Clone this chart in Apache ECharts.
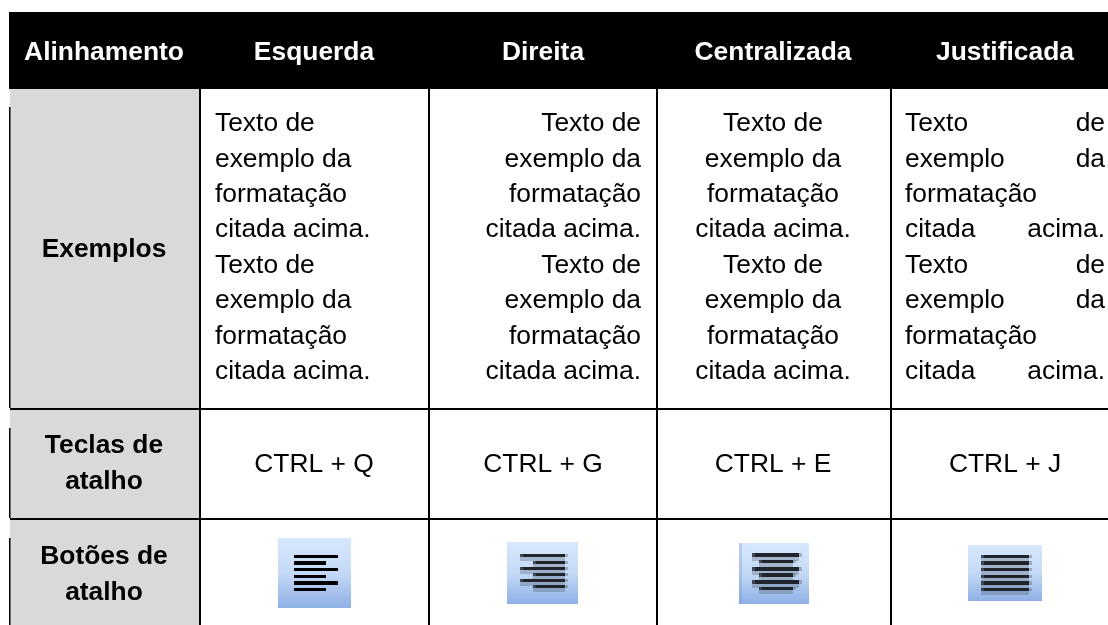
<!DOCTYPE html>
<html>
<head>
<meta charset="utf-8">
<style>html,body{margin:0;padding:0;background:#fff}#c{width:1108px;height:625px}</style>
<script src="https://cdn.jsdelivr.net/npm/echarts@6/dist/echarts.min.js"></script>
</head>
<body>
<div id="c"></div>
<script>
const headers = ['Alinhamento','Esquerda','Direita','Centralizada','Justificada'];
const rowLabels = [['Exemplos'],['Teclas de','atalho'],['Botões de','atalho']];
const exampleLines = ['Texto de','exemplo da','formatação','citada acima.','Texto de','exemplo da','formatação','citada acima.'];
const justifiedLines = [['Texto','de'],['exemplo','da'],['formatação'],['citada','acima.'],['Texto','de'],['exemplo','da'],['formatação'],['citada','acima.']];
const shortcuts = ['CTRL + Q','CTRL + G','CTRL + E','CTRL + J'];

const FONT = '"Liberation Sans", Arial, sans-serif';
const SIZE = 26.4;
const LINE = 35.4;
const els = [];
const rect = (x,y,w,h,fill) => els.push({type:'rect',silent:true,shape:{x,y,width:w,height:h},style:{fill}});
const text = (t,x,y,align,bold,fill) => els.push({type:'text',silent:true,x,y,style:{text:t,x:0,y:0,align,verticalAlign:'middle',fill:fill||'#000',font:(bold?'bold ':'')+SIZE+'px '+FONT}});

// backgrounds
rect(9,12,1099,77,'#000');
rect(10,89,189,536,'#d9d9d9');
// rules
[199,428,656,890].forEach(x=>rect(x,89,2,536,'#000'));
rect(10,408,1098,2,'#000');
rect(10,518,1098,2,'#000');
[[107,408],[428,518],[538,625]].forEach(([a,b])=>rect(9,a,1.5,b-a,'#000'));

// header
const hx = [104,314,543,773,1005];
headers.forEach((h,i)=>text(h,hx[i],53,'center',true,'#fff'));
// row labels
text(rowLabels[0][0],104,250,'center',true);
rowLabels[1].forEach((t,i)=>text(t,104,446+i*36,'center',true));
rowLabels[2].forEach((t,i)=>text(t,104,557+i*36,'center',true));
// examples
exampleLines.forEach((t,i)=>{
  const y = 124+i*LINE;
  text(t,215,y,'left');
  text(t,641,y,'right');
  text(t,773,y,'center');
});
justifiedLines.forEach((w,i)=>{
  const y = 124+i*LINE;
  text(w[0],905,y,'left');
  if(w[1]) text(w[1],1105,y,'right');
});
// shortcuts
[314,543,773,1005].forEach((x,i)=>text(shortcuts[i],x,465,'center'));

// icon buttons
const grad = {type:'linear',x:0,y:0,x2:0,y2:1,colorStops:[{offset:0,color:'#d8e8fd'},{offset:0.5,color:'#c4d9f6'},{offset:1,color:'#8eb0e5'}]};
function icon(x,y,w,h,bars,color,shadow){
  rect(x,y,w,h,grad);
  bars.forEach(b=>{
    const bh = b[3]-b[2];
    if(shadow){
      rect(b[0],b[3],b[1]-b[0]-3,4,'rgba(90,100,120,0.35)');
      rect(b[0],b[2],3,bh,'rgba(30,35,45,0.8)');
      rect(b[1]-3,b[2],3,bh,'rgba(90,100,120,0.4)');
      rect(b[0]+3,b[2],b[1]-b[0]-6,bh,color);
    } else rect(b[0],b[2],b[1]-b[0],bh,color);
  });
}
icon(278,538,73,70,[[294,338,555,558],[294,326,561,565],[294,338,568,571],[294,326,575,578],[294,338,581,585],[294,326,588,591]],'#000',false);
icon(507,542,71,62,[[520,568,554,557],[533,568,561,564],[520,568,567,570],[533,568,573,576],[520,568,579,582],[533,568,585,588]],'#20252b',true);
icon(739,543,70,61,[[752,802,553,557],[759,796,560,563],[752,802,567,571],[759,796,573,577],[752,802,580,584],[759,796,587,590]],'#20252b',true);
rect(739,543,3,61,'rgba(120,140,215,0.3)');
icon(968,545,74,56,[[981,1032,555,558],[981,1032,561,565],[981,1032,568,571],[981,1032,575,578],[981,1032,581,585],[981,1032,588,591]],'#20252b',true);

const chart = echarts.init(document.getElementById('c'));
chart.setOption({animation:false,backgroundColor:'#fff',graphic:{elements:els}});
</script>
</body>
</html>
